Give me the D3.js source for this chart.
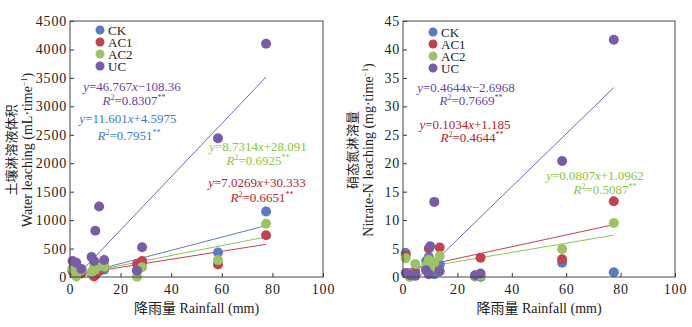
<!DOCTYPE html>
<html>
<head>
<meta charset="utf-8">
<script src="https://cdn.jsdelivr.net/npm/d3@7"></script>
<style>
  body { margin: 0; background: #fff; }
  svg text { font-family: "Liberation Serif", "Noto Sans CJK SC", serif; }
</style>
</head>
<body>
<script>
// rainfall events (mm), shared by every treatment
var rainfall = [1, 2.5, 4.5, 8.5, 9.5, 10, 11.5, 13.5, 26.5, 28.5, 58.5, 77.5];

var seriesNames = ["CK", "AC1", "AC2", "UC"];

// water leaching volume (mL per event)
var waterCK  = [150, 100, 130, 60, 100, 120, 150, 130, 120, 250, 430, 1150];
var waterAC1 = [100, 90, 60, 80, 10, 30, 100, 200, 230, 280, 221, 733];
var waterAC2 = [140, 10, 120, 80, 180, 130, 200, 180, 5, 170, 297, 936];
var waterUC  = [280, 250, 140, 350, 280, 814, 1238, 300, 110, 523, 2440, 4100];

// nitrate-N leaching (mg per event)
var nitCK  = [4.2, 0.3, 1.0, 2.8, 3.5, 2.0, 0.5, 2.2, 0.1, 0.0, 2.5, 0.85];
var nitAC1 = [3.8, 0.2, 0.5, 1.5, 5.0, 2.2, 1.8, 5.2, 0.2, 3.4, 3.1, 13.3];
var nitAC2 = [3.3, 0.0, 2.3, 2.0, 3.0, 1.5, 2.5, 3.7, 0.1, 0.2, 4.9, 9.5];
var nitUC  = [0.7, 0.3, 0.2, 1.2, 0.5, 5.4, 13.2, 1.0, 0.3, 0.6, 20.4, 41.7];

// fitted lines, read from the equations
var waterFitSeries = ["UC", "CK", "AC2", "AC1"];
var waterSlope = [46.767, 11.601, 8.7314, 7.0269];
var waterIntercept = [-108.36, 4.5975, 28.091, 30.333];
var waterR2 = ["0.8307", "0.7951", "0.6925", "0.6651"];

var nitFitSeries = ["UC", "AC1", "AC2"];
var nitSlope = [0.4644, 0.1034, 0.0807];
var nitIntercept = [-2.6968, 1.185, 1.0962];
var nitR2 = ["0.7669", "0.4644", "0.5087"];

var xTicks = [0, 20, 40, 60, 80, 100];
var waterTicks = d3.range(0, 4501, 500);
var nitTicks = d3.range(0, 46, 5);

var pointColor = { CK: "#5b7cc4", AC1: "#c0444f", AC2: "#9cc467", UC: "#7a5ba8" };
var lineColor  = { CK: "#5b7cc4", AC1: "#c8404c", AC2: "#8fc25a", UC: "#7a66b4" };
var textColor  = { CK: "#3d7bcb", AC1: "#b8202e", AC2: "#8dc540", UC: "#6a3f9f" };

var serif = "Liberation Serif, Noto Sans CJK SC, serif";

var svgWidth = 692, svgHeight = 327;
var svg = d3.select("body").append("svg")
  .attr("width", svgWidth)
  .attr("height", svgHeight)
  .attr("font-family", serif);

function styleAxis(a) {
  a.attr("font-family", serif).attr("font-size", 14);
  a.select(".domain").remove();
  a.selectAll("text").attr("fill", "#222").attr("letter-spacing", 0.8);
  a.selectAll("line").attr("stroke", "#333");
}

function drawPanel(opt) {
  var x = d3.scaleLinear().domain([0, 100]).range([opt.left, opt.right]);
  var y = d3.scaleLinear().domain([0, opt.yMax]).range([277, 21]);
  var g = svg.append("g");

  var clipId = "clip" + opt.id;
  g.append("clipPath").attr("id", clipId)
    .append("rect")
    .attr("x", opt.left).attr("y", 21)
    .attr("width", opt.right - opt.left).attr("height", 256);

  // axes with inward ticks
  g.append("g")
    .attr("transform", "translate(0,277)")
    .call(d3.axisBottom(x).tickValues(xTicks).tickFormat(d3.format("d"))
      .tickSizeInner(-4).tickSizeOuter(0).tickPadding(7))
    .call(styleAxis);

  g.append("g")
    .attr("transform", "translate(" + opt.left + ",0)")
    .call(d3.axisLeft(y).tickValues(opt.ticks).tickFormat(d3.format("d"))
      .tickSizeInner(-4).tickSizeOuter(0).tickPadding(3))
    .call(styleAxis);

  // regression lines
  var lines = g.append("g").attr("clip-path", "url(#" + clipId + ")");
  var xMin = d3.min(rainfall), xMax = d3.max(rainfall);
  opt.fitSeries.forEach(function(s, i) {
    lines.append("line")
      .attr("x1", x(xMin)).attr("y1", y(opt.slope[i] * xMin + opt.intercept[i]))
      .attr("x2", x(xMax)).attr("y2", y(opt.slope[i] * xMax + opt.intercept[i]))
      .attr("stroke", lineColor[s])
      .attr("stroke-width", 1);
  });

  // points, later series on top
  seriesNames.forEach(function(s, i) {
    g.append("g").selectAll("circle")
      .data(opt.values[i])
      .enter()
      .append("circle")
      .attr("cx", (d, j) => x(rainfall[j]))
      .attr("cy", d => y(d))
      .attr("r", 5)
      .attr("fill", pointColor[s]);
  });

  // frame
  g.append("rect")
    .attr("x", opt.left).attr("y", 21)
    .attr("width", opt.right - opt.left).attr("height", 256)
    .attr("fill", "none").attr("stroke", "#444").attr("stroke-width", 1);

  // legend
  seriesNames.forEach(function(s, i) {
    var ly = opt.legendY + i * 12;
    g.append("circle").attr("cx", opt.legendX).attr("cy", ly).attr("r", 4.5).attr("fill", pointColor[s]);
    g.append("text").attr("x", opt.legendX + 8).attr("y", ly + 4.5)
      .attr("font-size", 13).attr("fill", "#222").text(s);
  });

  // equations
  opt.fitSeries.forEach(function(s, i) {
    var pos = opt.eqPos[i];
    var b = opt.intercept[i];
    var sign = b < 0 ? "\u2212" : "+";
    var t1 = g.append("text").attr("x", pos[0]).attr("y", pos[1])
      .attr("text-anchor", "middle").attr("font-size", 13).attr("fill", textColor[s]);
    t1.append("tspan").attr("font-style", "italic").text("y");
    t1.append("tspan").text("=" + opt.slope[i]);
    t1.append("tspan").attr("font-style", "italic").text("x");
    t1.append("tspan").text(sign + Math.abs(b));

    var t2 = g.append("text").attr("x", pos[2]).attr("y", pos[3])
      .attr("text-anchor", "middle").attr("font-size", 13).attr("fill", textColor[s]);
    t2.append("tspan").attr("font-style", "italic").text("R");
    t2.append("tspan").attr("font-size", 8).attr("dy", -5).text("2");
    t2.append("tspan").attr("dy", 5).text("=" + opt.r2[i]);
    t2.append("tspan").attr("font-size", 8).attr("dy", -5).text("**");
  });

  // axis titles
  g.append("text")
    .attr("x", (opt.left + opt.right) / 2).attr("y", 313)
    .attr("text-anchor", "middle").attr("font-size", 14).attr("fill", "#222")
    .text("降雨量 Rainfall (mm)");

  g.append("text")
    .attr("transform", "translate(" + opt.cnX + ",150) rotate(-90)")
    .attr("text-anchor", "middle").attr("font-size", 13).attr("fill", "#222")
    .text(opt.cnTitle);

  var et = g.append("text")
    .attr("transform", "translate(" + opt.enX + ",150) rotate(-90)")
    .attr("text-anchor", "middle").attr("font-size", 14).attr("fill", "#222");
  et.append("tspan").text(opt.enTitle);
  et.append("tspan").attr("font-size", 8).attr("dy", -5).text("\u22121");
  et.append("tspan").attr("dy", 5).text(")");
}

drawPanel({
  id: "L", left: 70, right: 323, yMax: 4500, ticks: waterTicks,
  values: [waterCK, waterAC1, waterAC2, waterUC],
  fitSeries: waterFitSeries, slope: waterSlope, intercept: waterIntercept, r2: waterR2,
  eqPos: [[132, 91, 134, 105], [128, 123, 129, 140], [258, 151, 258, 165], [257, 187, 262, 202]],
  legendX: 100, legendY: 30,
  cnX: 16, enX: 32, cnTitle: "土壤淋溶液体积", enTitle: "Water leaching (mL\u00b7time"
});

drawPanel({
  id: "R", left: 403, right: 675, yMax: 45, ticks: nitTicks,
  values: [nitCK, nitAC1, nitAC2, nitUC],
  fitSeries: nitFitSeries, slope: nitSlope, intercept: nitIntercept, r2: nitR2,
  eqPos: [[466, 92, 471, 105], [465, 129, 472, 142], [595, 180, 605, 194]],
  legendX: 433, legendY: 32,
  cnX: 357, enX: 373, cnTitle: "硝态氮淋溶量", enTitle: "Nitrate-N leaching (mg\u00b7time"
});
</script>
</body>
</html>
